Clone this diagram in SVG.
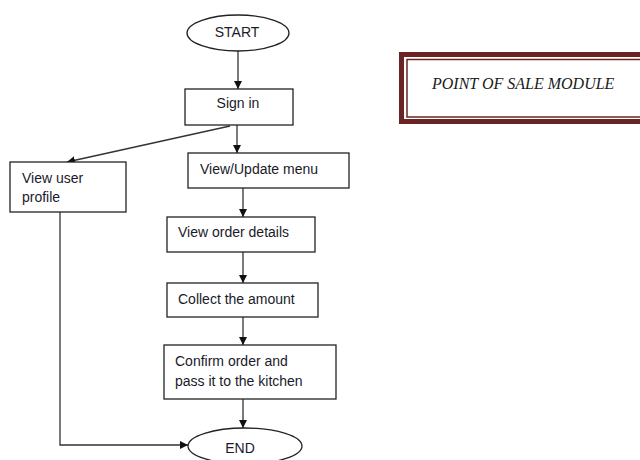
<svg xmlns="http://www.w3.org/2000/svg" width="640" height="460" viewBox="0 0 640 460">
<style>
.box{fill:#fff;stroke:#222;stroke-width:1.3}
.t{font-family:"Liberation Sans",Arial,sans-serif;font-size:14px;fill:#1a1a2a}
.c{text-anchor:middle}
.ln{fill:none;stroke:#333;stroke-width:1.3}
.title{font-family:"Liberation Serif","Times New Roman",serif;font-style:italic;font-size:16px;fill:#1a1a1a}
</style>
<defs>
<marker id="ah" markerUnits="userSpaceOnUse" markerWidth="9" markerHeight="8" refX="8" refY="4" orient="auto">
<path d="M0,0 L8,4 L0,8 z" fill="#111"/>
</marker>
</defs>
<rect width="640" height="460" fill="#fff"/>
<g id="connectors">
<line class="ln" x1="238" y1="51" x2="238" y2="89" marker-end="url(#ah)"/>
<line class="ln" x1="230" y1="126" x2="67" y2="162" marker-end="url(#ah)"/>
<line class="ln" x1="237" y1="125" x2="237" y2="153" marker-end="url(#ah)"/>
<line class="ln" x1="243" y1="188" x2="243" y2="217" marker-end="url(#ah)"/>
<line class="ln" x1="243" y1="252" x2="243" y2="283" marker-end="url(#ah)"/>
<line class="ln" x1="243" y1="317" x2="243" y2="345" marker-end="url(#ah)"/>
<line class="ln" x1="243" y1="399" x2="243" y2="428" marker-end="url(#ah)"/>
<polyline class="ln" points="60,212 60,445 188,445" marker-end="url(#ah)"/>
</g>
<g id="start">
<ellipse class="box" cx="238" cy="33" rx="51" ry="18"/>
<text class="t c" x="237" y="37">START</text>
</g>
<g id="signin">
<rect class="box" x="185" y="89" width="108" height="36"/>
<text class="t c" x="238" y="108">Sign in</text>
</g>
<g id="viewprofile">
<rect class="box" x="10" y="162" width="116" height="50"/>
<text class="t" x="22" y="183">View user</text>
<text class="t" x="22" y="202">profile</text>
</g>
<g id="updatemenu">
<rect class="box" x="188" y="153" width="161" height="35"/>
<text class="t" x="200" y="174">View/Update menu</text>
</g>
<g id="orderdetails">
<rect class="box" x="167" y="217" width="148" height="35"/>
<text class="t" x="178" y="237">View order details</text>
</g>
<g id="collect">
<rect class="box" x="167" y="283" width="151" height="34"/>
<text class="t" x="178" y="304">Collect the amount</text>
</g>
<g id="confirm">
<rect class="box" x="164" y="345" width="172" height="54"/>
<text class="t" x="175" y="366">Confirm order and</text>
<text class="t" x="175" y="386">pass it to the kitchen</text>
</g>
<g id="end">
<ellipse class="box" cx="245" cy="446" rx="57" ry="18"/>
<text class="t c" x="240" y="453">END</text>
</g>
<g id="title">
<rect x="401.5" y="54.5" width="245" height="67" fill="#fff" stroke="#6b2424" stroke-width="5"/>
<rect x="407" y="59.5" width="240" height="57.5" fill="none" stroke="#6b2424" stroke-width="1.5"/>
<text class="title" x="432" y="89">POINT OF SALE MODULE</text>
</g>
</svg>
